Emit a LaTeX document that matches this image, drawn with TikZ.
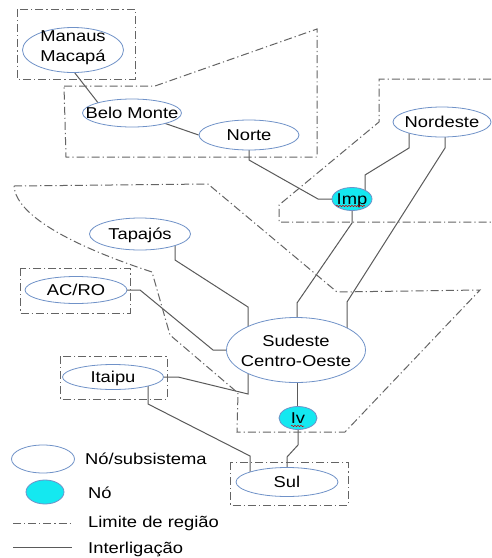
\documentclass[tikz,border=0pt]{standalone}
\usepackage{fontspec}
\setmainfont{Liberation Sans}[FakeStretch=1.17]
\usetikzlibrary{shapes.geometric,decorations.pathmorphing}
\pgfdeclarelayer{bg}
\pgfsetlayers{bg,main}
\definecolor{ellc}{RGB}{112,146,200}
\definecolor{nodec}{RGB}{20,232,240}
\definecolor{linkc}{RGB}{90,90,90}
\definecolor{regc}{RGB}{100,100,100}
\begin{document}
\begin{tikzpicture}[x=1pt,y=-1pt,
  every node/.style={font=\fontsize{15.7}{21}\selectfont, text=black},
  ell/.style 2 args={ellipse, draw=ellc, line width=0.8pt, fill=white, minimum width=#1, minimum height=#2, inner sep=0pt},
  hub/.style 2 args={ell={#1}{#2}, fill=nodec},
  lbl/.style={anchor=base, inner sep=0pt},
  llbl/.style={anchor=base west, inner sep=0pt},
  link/.style={draw=linkc, line width=1pt},
  region/.style={draw=regc, line width=1pt, dash pattern=on 8pt off 3pt on 1.2pt off 3pt},
  squig/.style={draw=red!80!black, line width=0.5pt, decorate, decoration={snake, amplitude=0.7pt, segment length=3pt}}]
\useasboundingbox (0,0) rectangle (491,558);
\begin{pgfonlayer}{bg}
\fill[white] (0,0) rectangle (491,558);
\end{pgfonlayer}

% ---- ellipses ----
\node[ell={101pt}{45pt}] (mm) at (73,50) {};
\node[ell={99pt}{28pt}] (bm) at (132,113) {};
\node[ell={100pt}{30pt}] (norte) at (249,135) {};
\node[ell={98pt}{30pt}] (nord) at (442,122) {};
\node[hub={40pt}{23pt}] (imp) at (352,199) {};
\node[ell={101pt}{32pt}] (tap) at (140,234) {};
\node[ell={102pt}{27pt}] (acro) at (76,290) {};
\node[ell={139pt}{65pt}] (sco) at (296,350) {};
\node[ell={101pt}{25pt}] (itaipu) at (113,377) {};
\node[hub={38pt}{23pt}] (iv) at (298,418) {};
\node[ell={102pt}{29pt}] (sul) at (287,482) {};
\node[ell={63pt}{28pt}] (leg1) at (43,459) {};
\node[hub={38pt}{24pt}] (leg2) at (45,492) {};

% ---- labels ----
\node[lbl] (mm-t1) at ([yshift=9pt]mm.center) {Manaus};
\node[lbl] (mm-t2) at ([yshift=-11pt]mm.center) {Macapá};
\node[lbl] (bm-t) at ([yshift=-5.5pt]bm.center) {Belo Monte};
\node[lbl] (norte-t) at ([yshift=-5.5pt]norte.center) {Norte};
\node[lbl] (nord-t) at ([yshift=-5.5pt]nord.center) {Nordeste};
\node[lbl] (imp-t) at ([yshift=-5.5pt]imp.center) {Imp};
\node[lbl] (tap-t) at ([yshift=-5.5pt]tap.center) {Tapajós};
\node[lbl] (acro-t) at ([yshift=-5.5pt]acro.center) {AC/RO};
\node[lbl] (sco-t1) at ([yshift=4pt]sco.center) {Sudeste};
\node[lbl] (sco-t2) at ([yshift=-16pt]sco.center) {Centro-Oeste};
\node[lbl] (itaipu-t) at ([yshift=-5.5pt]itaipu.center) {Itaipu};
\node[lbl] (iv-t) at ([yshift=-5.5pt]iv.center) {Iv};
\node[lbl] (sul-t) at ([yshift=-5.5pt]sul.center) {Sul};

\draw[squig] (336,206) -- (365,206);
\draw[squig] (291,426) -- (304,426);

% ---- connectors ----
\begin{pgfonlayer}{bg}
\draw[link] ([xshift=-16pt]mm.center) -- ([xshift=-26pt]bm.center);
\draw[link] ([xshift=3pt]bm.center) -- (norte.west);
\draw[link] (norte.center) -- ++(0,25) -- (318,199) -- (imp.center);
\draw[link] ([xshift=13pt]imp.center) -- ++(0,-24) -- (409,148) -- ([xshift=-33pt]nord.center);
\draw[link] ([xshift=3pt]nord.center) -- (445,148) -- (347,302) -- ([xshift=51pt]sco.center);
\draw[link] (imp.center) -- (352,223) -- (297,303) -- ([xshift=1pt]sco.center);
\draw[link] ([xshift=35pt]tap.center) -- (175,260) -- (248,307) -- ([xshift=-48pt]sco.center);
\draw[link] (acro.center) -- (140,290) -- (213,350) -- (sco.center);
\draw[link] (itaipu.center) -- (178,377) -- (248,394) -- ([xshift=-48pt]sco.center);
\draw[link] ([xshift=35pt]itaipu.center) -- (148,404) -- (250,456) -- ([xshift=-37pt]sul.center);
\draw[link] ([xshift=1pt]sco.center) -- ([xshift=-1pt]iv.center);
\draw[link] (iv.center) -- (298,445) -- (287,457) -- (sul.center);
\end{pgfonlayer}

% ---- regions ----
\draw[region] (17,9) rectangle (135,79);
\draw[region] (64,86) -- (155,86) -- (317,29) -- (317,157) -- (66,157) -- cycle;
\draw[region] (491,79) -- (379,79) -- (379,122) -- (279,205) -- (279,222) -- (491,222);
\draw[region] (14,186) -- (208,184) -- (337,292) -- (480,290) -- (345,432) -- (237,432) -- (238,393) -- (170,335) -- (152,272) .. controls (70,245) and (16,215) .. (14,186);
\draw[region] (20,268) rectangle (130,313);
\draw[region] (60,356) rectangle (167,399);
\draw[region] (230,462) rectangle (348,505);

% ---- legend ----
\coordinate (l3a) at (13,523);
\coordinate (l3b) at (72,523);
\coordinate (l4a) at (13,547);
\coordinate (l4b) at (72,547);
\draw[region] (l3a) -- (l3b);
\draw[link] (l4a) -- (l4b);
\node[llbl] (leg1-t) at (85,464) {Nó/subsistema};
\node[llbl] (leg2-t) at (88,498) {Nó};
\node[llbl] (leg3-t) at (88,527) {Limite de região};
\node[llbl] (leg4-t) at (88,553) {Interligação};
\end{tikzpicture}
\end{document}
